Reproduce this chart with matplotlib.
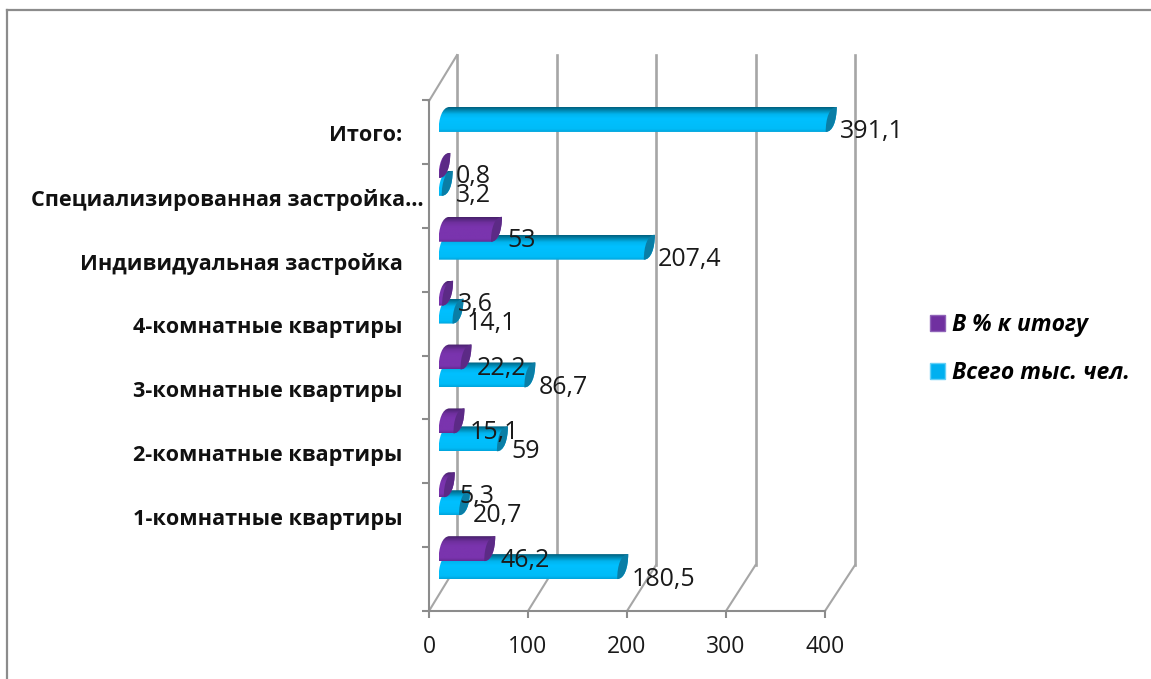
import matplotlib
matplotlib.use('Agg')
import matplotlib.pyplot as plt
import numpy as np
from matplotlib.lines import Line2D
from matplotlib.patches import Patch, PathPatch
from matplotlib.path import Path
from matplotlib.transforms import ScaledTranslation

categories = ['', '1-комнатные квартиры', '2-комнатные квартиры', '3-комнатные квартиры',
              '4-комнатные квартиры', 'Индивидуальная застройка',
              'Специализированная застройка…', 'Итого:']
total = [180.5, 20.7, 59, 86.7, 14.1, 207.4, 3.2, 391.1]
percent = [46.2, 5.3, 15.1, 22.2, 3.6, 53, 0.8, None]
total_labels = ['180,5', '20,7', '59', '86,7', '14,1', '207,4', '3,2', '391,1']
percent_labels = ['46,2', '5,3', '15,1', '22,2', '3,6', '53', '0,8', '']
x_ticks = [0, 100, 200, 300, 400]

plt.rcParams['font.family'] = ['Open Sans', 'DejaVu Sans']

W, H = 1151, 679
fig = plt.figure(figsize=(W / 100, H / 100), dpi=100)
ax = fig.add_axes([429 / W, (H - 611) / H, 435.6 / W, 511 / H])
ax.set_xlim(0, 440)
ax.set_ylim(-0.5, 7.484)
ax.patch.set_alpha(0)

# 3d look: depth of the walls and the slant of the bars, in data units
depth_x, depth_y = 28 / 0.99, 46 / 64
back_scale = 99.5 / 99
bar_dx, bar_h, bar_start = 11 / 0.99, 25 / 64, 9.5 / 0.99

wall = '#a6a6a6'
front = '#8c8c8c'
for v in x_ticks:
    bx = v * back_scale + depth_x
    ax.plot([bx, bx], [-0.5 + depth_y, 7.484 + depth_y], color=wall, lw=1.9,
            clip_on=False, zorder=1)
    ax.plot([v, bx], [-0.5, -0.5 + depth_y], color=wall, lw=1.5, clip_on=False, zorder=1)
ax.plot([0, depth_x], [7.484, 7.484 + depth_y], color=wall, lw=1.5, clip_on=False, zorder=1)


def draw_bar(value, y0, colors, cap_color, zorder):
    x0 = bar_start
    x1 = x0 + value
    y1 = y0 + bar_h
    # left end bulges up-left, right end bulges down-right
    verts = [(x0, y0), (x1, y0),
             (x1 + 0.65 * bar_dx, y0), (x1 + bar_dx, y0 + 0.45 * bar_h), (x1 + bar_dx, y1),
             (x0 + bar_dx, y1),
             (x0 + 0.35 * bar_dx, y1), (x0, y0 + 0.55 * bar_h), (x0, y0)]
    codes = [Path.MOVETO, Path.LINETO, Path.CURVE4, Path.CURVE4, Path.CURVE4, Path.LINETO,
             Path.CURVE4, Path.CURVE4, Path.CURVE4]
    body = PathPatch(Path(verts, codes), fc='none', ec='none', zorder=zorder)
    ax.add_patch(body)
    cmap = matplotlib.colors.LinearSegmentedColormap.from_list('g', colors)
    grad = np.linspace(0, 1, 64).reshape(-1, 1)
    im = ax.imshow(grad, cmap=cmap, aspect='auto', extent=(x0, x1 + bar_dx, y0, y1),
                   origin='lower', interpolation='bilinear', zorder=zorder)
    im.set_clip_path(body)
    cap_verts = [(x1, y0), (x1 + 0.65 * bar_dx, y0), (x1 + bar_dx, y0 + 0.45 * bar_h), (x1 + bar_dx, y1),
                 (x1 + 0.35 * bar_dx, y1), (x1, y0 + 0.55 * bar_h), (x1, y0)]
    cap_codes = [Path.MOVETO, Path.CURVE4, Path.CURVE4, Path.CURVE4, Path.CURVE4, Path.CURVE4, Path.CURVE4]
    ax.add_patch(PathPatch(Path(cap_verts, cap_codes), fc=cap_color, ec='none', zorder=zorder + 0.1))


blue_grad = [(0, '#00a5dc'), (0.12, '#00bcf8'), (0.55, '#00c0ff'), (0.72, '#00b4ee'),
             (0.88, '#0085ad'), (1, '#00607f')]
purple_grad = [(0, '#652b92'), (0.12, '#7a34ae'), (0.6, '#7a34ae'), (0.78, '#70309f'),
               (0.9, '#5a2884'), (1, '#47206a')]

for i, v in enumerate(total):
    draw_bar(v, i, blue_grad, '#0a7ea6', 3)
for i, v in enumerate(percent):
    if v is not None:
        draw_bar(v, i + 0.281, purple_grad, '#5c2a86', 4)

for i, v in enumerate(total):
    ax.annotate(total_labels[i], xy=(bar_start + v, i), xytext=(14, 0), textcoords='offset pixels',
                ha='left', va='center', fontsize=18, color='#1a1a1a', zorder=6, annotation_clip=False)
for i, v in enumerate(percent):
    if v is not None:
        ax.annotate(percent_labels[i], xy=(bar_start + v, i + 0.281), xytext=(16, 1), textcoords='offset pixels',
                    ha='left', va='center', fontsize=18, color='#1a1a1a', zorder=6, annotation_clip=False)

# axes
for s in ['top', 'right']:
    ax.spines[s].set_visible(False)
for s in ['left', 'bottom']:
    ax.spines[s].set_color(front)
    ax.spines[s].set_linewidth(1.5)
ax.spines['bottom'].set_bounds(0, 400)
ax.set_xticks(x_ticks)
ax.set_yticks(range(len(categories)), categories)
ax.set_yticks(np.arange(-0.5, 7.6, 1), minor=True)
ax.tick_params(axis='x', length=5, width=1.5, color=front, labelsize=16.5, labelcolor='#1a1a1a', pad=12)
ax.tick_params(axis='y', which='major', length=0, pad=19)
ax.tick_params(axis='y', which='minor', length=5, width=1.5, color=front)
for lab in ax.get_yticklabels():
    lab.set_fontweight('bold')
    lab.set_fontsize(15.6)
    lab.set_color('#111111')
    lab.set_transform(lab.get_transform() + ScaledTranslation(0, -1.5 / 100, fig.dpi_scale_trans))
# the long label sits further right than the others
spec = ax.get_yticklabels()[6]
spec.set_transform(spec.get_transform() + ScaledTranslation(21 / 100, 0, fig.dpi_scale_trans))

handles = [Patch(fc='#7030a0', ec='#8f63b8', label='В % к итогу'),
           Patch(fc='#00b0f0', ec='#66d0f6', label='Всего тыс. чел.')]
fig.legend(handles=handles, loc='center left', bbox_to_anchor=(909.5 / W, 1 - 349 / H), frameon=False,
           handlelength=0.65, handleheight=0.65, handletextpad=0.3, labelspacing=1.05,
           prop={'weight': 'bold', 'style': 'italic', 'size': 16.5})

# outer frame of the chart area
fig.add_artist(Line2D([7 / W, 7 / W], [0, 1 - 10 / H], color=front, lw=1.6, transform=fig.transFigure))
fig.add_artist(Line2D([7 / W, 1], [1 - 10 / H, 1 - 10 / H], color=front, lw=1.6, transform=fig.transFigure))

plt.savefig('out.png', dpi=100)
